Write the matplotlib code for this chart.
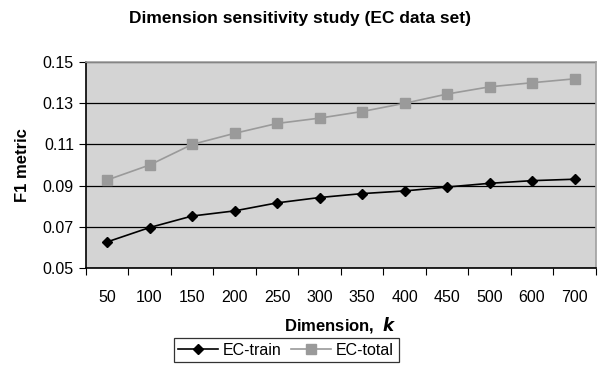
import numpy as np
import matplotlib.pyplot as plt

# Daten aus dem Diagramm
dimension = ["50", "100", "150", "200", "250", "300", "350", "400", "450", "500", "600", "700"]
ec_train = [0.0626, 0.0696, 0.0752, 0.0777, 0.0816, 0.0842, 0.0861, 0.0874, 0.0893, 0.0911, 0.0924, 0.0931]
ec_total = [0.0927, 0.1000, 0.1100, 0.1154, 0.1202, 0.1228, 0.1260, 0.1300, 0.1345, 0.1380, 0.1400, 0.1419]

plt.rcParams['font.family'] = ['Liberation Sans', 'DejaVu Sans']

fig = plt.figure(figsize=(6, 3.7), dpi=100)
ax = fig.add_axes([0.143, 0.276, 0.850, 0.556])
ax.set_facecolor('#d4d4d4')

x = np.arange(len(dimension))
ax.plot(x, ec_train, color='black', lw=1.2, marker='D', ms=5.5, label='EC-train')
ax.plot(x, ec_total, color='#9a9a9a', lw=1.2, marker='s', ms=7, label='EC-total')

ax.set_xlim(-0.5, len(dimension) - 0.5)
ax.set_ylim(0.05, 0.15)
ax.set_yticks([0.05, 0.07, 0.09, 0.11, 0.13, 0.15])
ax.set_yticklabels(["0.05", "0.07", "0.09", "0.11", "0.13", "0.15"], fontsize=11.5)
ax.yaxis.grid(True, color='black', lw=0.9)
ax.set_axisbelow(True)

# Kategorieachse: Ticks zwischen den Kategorien
ax.set_xticks(np.arange(-0.5, len(dimension) + 0.5, 1))
ax.set_xticklabels([])
ax.set_xticks(x, minor=True)
ax.set_xticklabels(dimension, minor=True, fontsize=11.5)
ax.tick_params(axis='x', which='minor', length=0, pad=16)
ax.tick_params(axis='x', which='major', length=5, direction='out', color='black')
ax.tick_params(axis='y', length=5, direction='out', color='black')

ax.spines['top'].set_color('#a0a0a0')
ax.spines['right'].set_color('#a0a0a0')
ax.spines['left'].set_color('black')
ax.spines['bottom'].set_color('black')
for s in ax.spines.values():
    s.set_linewidth(1.2)

fig.text(0.5, 0.95, "Dimension sensitivity study (EC data set)", ha='center', va='center',
         fontsize=12.5, fontweight='bold')
fig.text(0.037, 0.554, "F1 metric", rotation=90, ha='center', va='center',
         fontsize=12, fontweight='bold')
fig.text(0.567, 0.121, "Dimension,  $\\boldsymbol{k}$", ha='center', va='center',
         fontsize=12, fontweight='bold')

leg = fig.legend(loc='center', bbox_to_anchor=(0.477, 0.054), ncol=2, fontsize=11.5,
                 frameon=True, fancybox=False, edgecolor='black', handlelength=2.5,
                 handletextpad=0.3, columnspacing=0.6, borderpad=0.3)
leg.get_frame().set_linewidth(0.9)

fig.savefig("out.png", dpi=100)
